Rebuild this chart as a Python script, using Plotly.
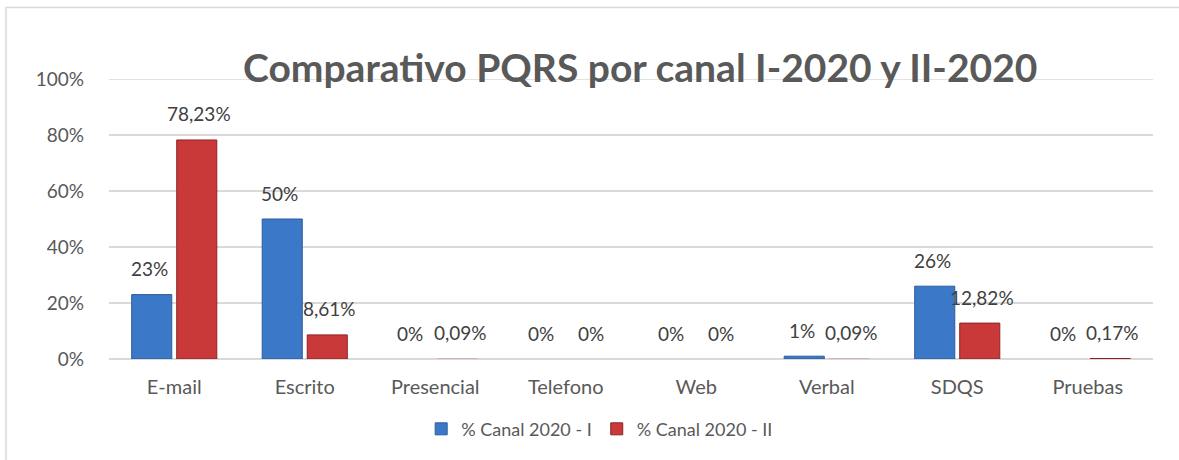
import plotly.graph_objects as go

# Channel shares of PQRS requests, first vs second half of 2020
canales = ["E-mail", "Escrito", "Presencial", "Telefono", "Web", "Verbal", "SDQS", "Pruebas"]
canal_2020_i = [0.23, 0.50, 0.00, 0.00, 0.00, 0.01, 0.26, 0.00]
canal_2020_ii = [0.7823, 0.0861, 0.0009, 0.00, 0.00, 0.0009, 0.1282, 0.0017]
y_ticks = [0, 0.2, 0.4, 0.6, 0.8, 1.0]
y_tick_text = ["0%", "20%", "40%", "60%", "80%", "100%"]

FONT = "Lato"
TEXT = "#595959"
GRID = "#d9d9d9"

W, H = 1179, 460
ML, MR, MT, MB = 109, 26, 79, 99


def pct_int(v):
    return f"{v * 100:.0f}%"


def pct_dec(v):
    if v == 0:
        return "0%"
    return f"{v * 100:.2f}%".replace(".", ",")


def edge_colors(vals, color):
    # no outline on empty bars so they don't show up as a stroke on the baseline
    return [color if v > 0.0015 else "rgba(0,0,0,0)" for v in vals]


fig = go.Figure()
fig.add_trace(go.Bar(
    name="% Canal 2020 - I", x=canales, y=canal_2020_i,
    marker=dict(color="#3b78c7", line=dict(color=edge_colors(canal_2020_i, "#2b5c9e"), width=1)),
))
fig.add_trace(go.Bar(
    name="% Canal 2020 - II", x=canales, y=canal_2020_ii,
    marker=dict(color="#c9393a", line=dict(color=edge_colors(canal_2020_ii, "#8e2324"), width=1)),
))

# value labels above each bar
annotations = []
for vals, fmt, shift in ((canal_2020_i, pct_int, -25), (canal_2020_ii, pct_dec, 25)):
    for cat, v in zip(canales, vals):
        annotations.append(dict(
            x=cat, y=v, xref="x", yref="y", text=fmt(v), showarrow=False,
            xshift=shift, yshift=26, font=dict(family=FONT, size=19, color="#404040"),
        ))

ph = H - MT - MB
pw = W - ML - MR

annotations.append(dict(
    x=0.5, y=1 + 12 / ph, xref="paper", yref="paper", xshift=9,
    text="<b>Comparativo PQRS por canal I-2020 y II-2020</b>", showarrow=False,
    xanchor="center", yanchor="middle",
    font=dict(family=FONT, size=39, color=TEXT),
))

shapes = [
    # chart frame
    dict(
        type="rect", xref="paper", yref="paper",
        x0=-(ML - 6) / pw, x1=(W - ML + 10) / pw,
        y0=-(MB + 10) / ph, y1=1 + (MT - 7) / ph,
        line=dict(color=GRID, width=1.5), fillcolor="rgba(0,0,0,0)", layer="below",
    ),
    # top gridline at 100%
    dict(
        type="line", xref="paper", yref="y", x0=0, x1=1, y0=1, y1=1,
        line=dict(color=GRID, width=1.5), layer="below",
    ),
]

fig.update_layout(
    width=W, height=H,
    margin=dict(l=ML, r=MR, t=MT, b=MB),
    paper_bgcolor="white", plot_bgcolor="white",
    barmode="group", bargap=0.31, bargroupgap=0.11,
    font=dict(family=FONT, size=19, color=TEXT),
    showlegend=True,
    legend=dict(
        orientation="h", x=0.47, y=-(425 - (H - MB) - 12) / ph, xanchor="center", yanchor="top",
        font=dict(family=FONT, size=18, color=TEXT), itemwidth=30,
        tracegroupgap=0,
    ),
    annotations=annotations,
    shapes=shapes,
    xaxis=dict(showgrid=False, showline=False, ticks="", tickfont=dict(size=20),
               ticklabelstandoff=14),
    yaxis=dict(
        range=[0, 1], tickvals=y_ticks, ticktext=y_tick_text,
        showgrid=True, gridcolor=GRID, gridwidth=1.5,
        zeroline=True, zerolinecolor=GRID, zerolinewidth=1.5,
        ticks="", ticklabelstandoff=24, tickfont=dict(size=19),
    ),
)

fig.write_html("out.html")
